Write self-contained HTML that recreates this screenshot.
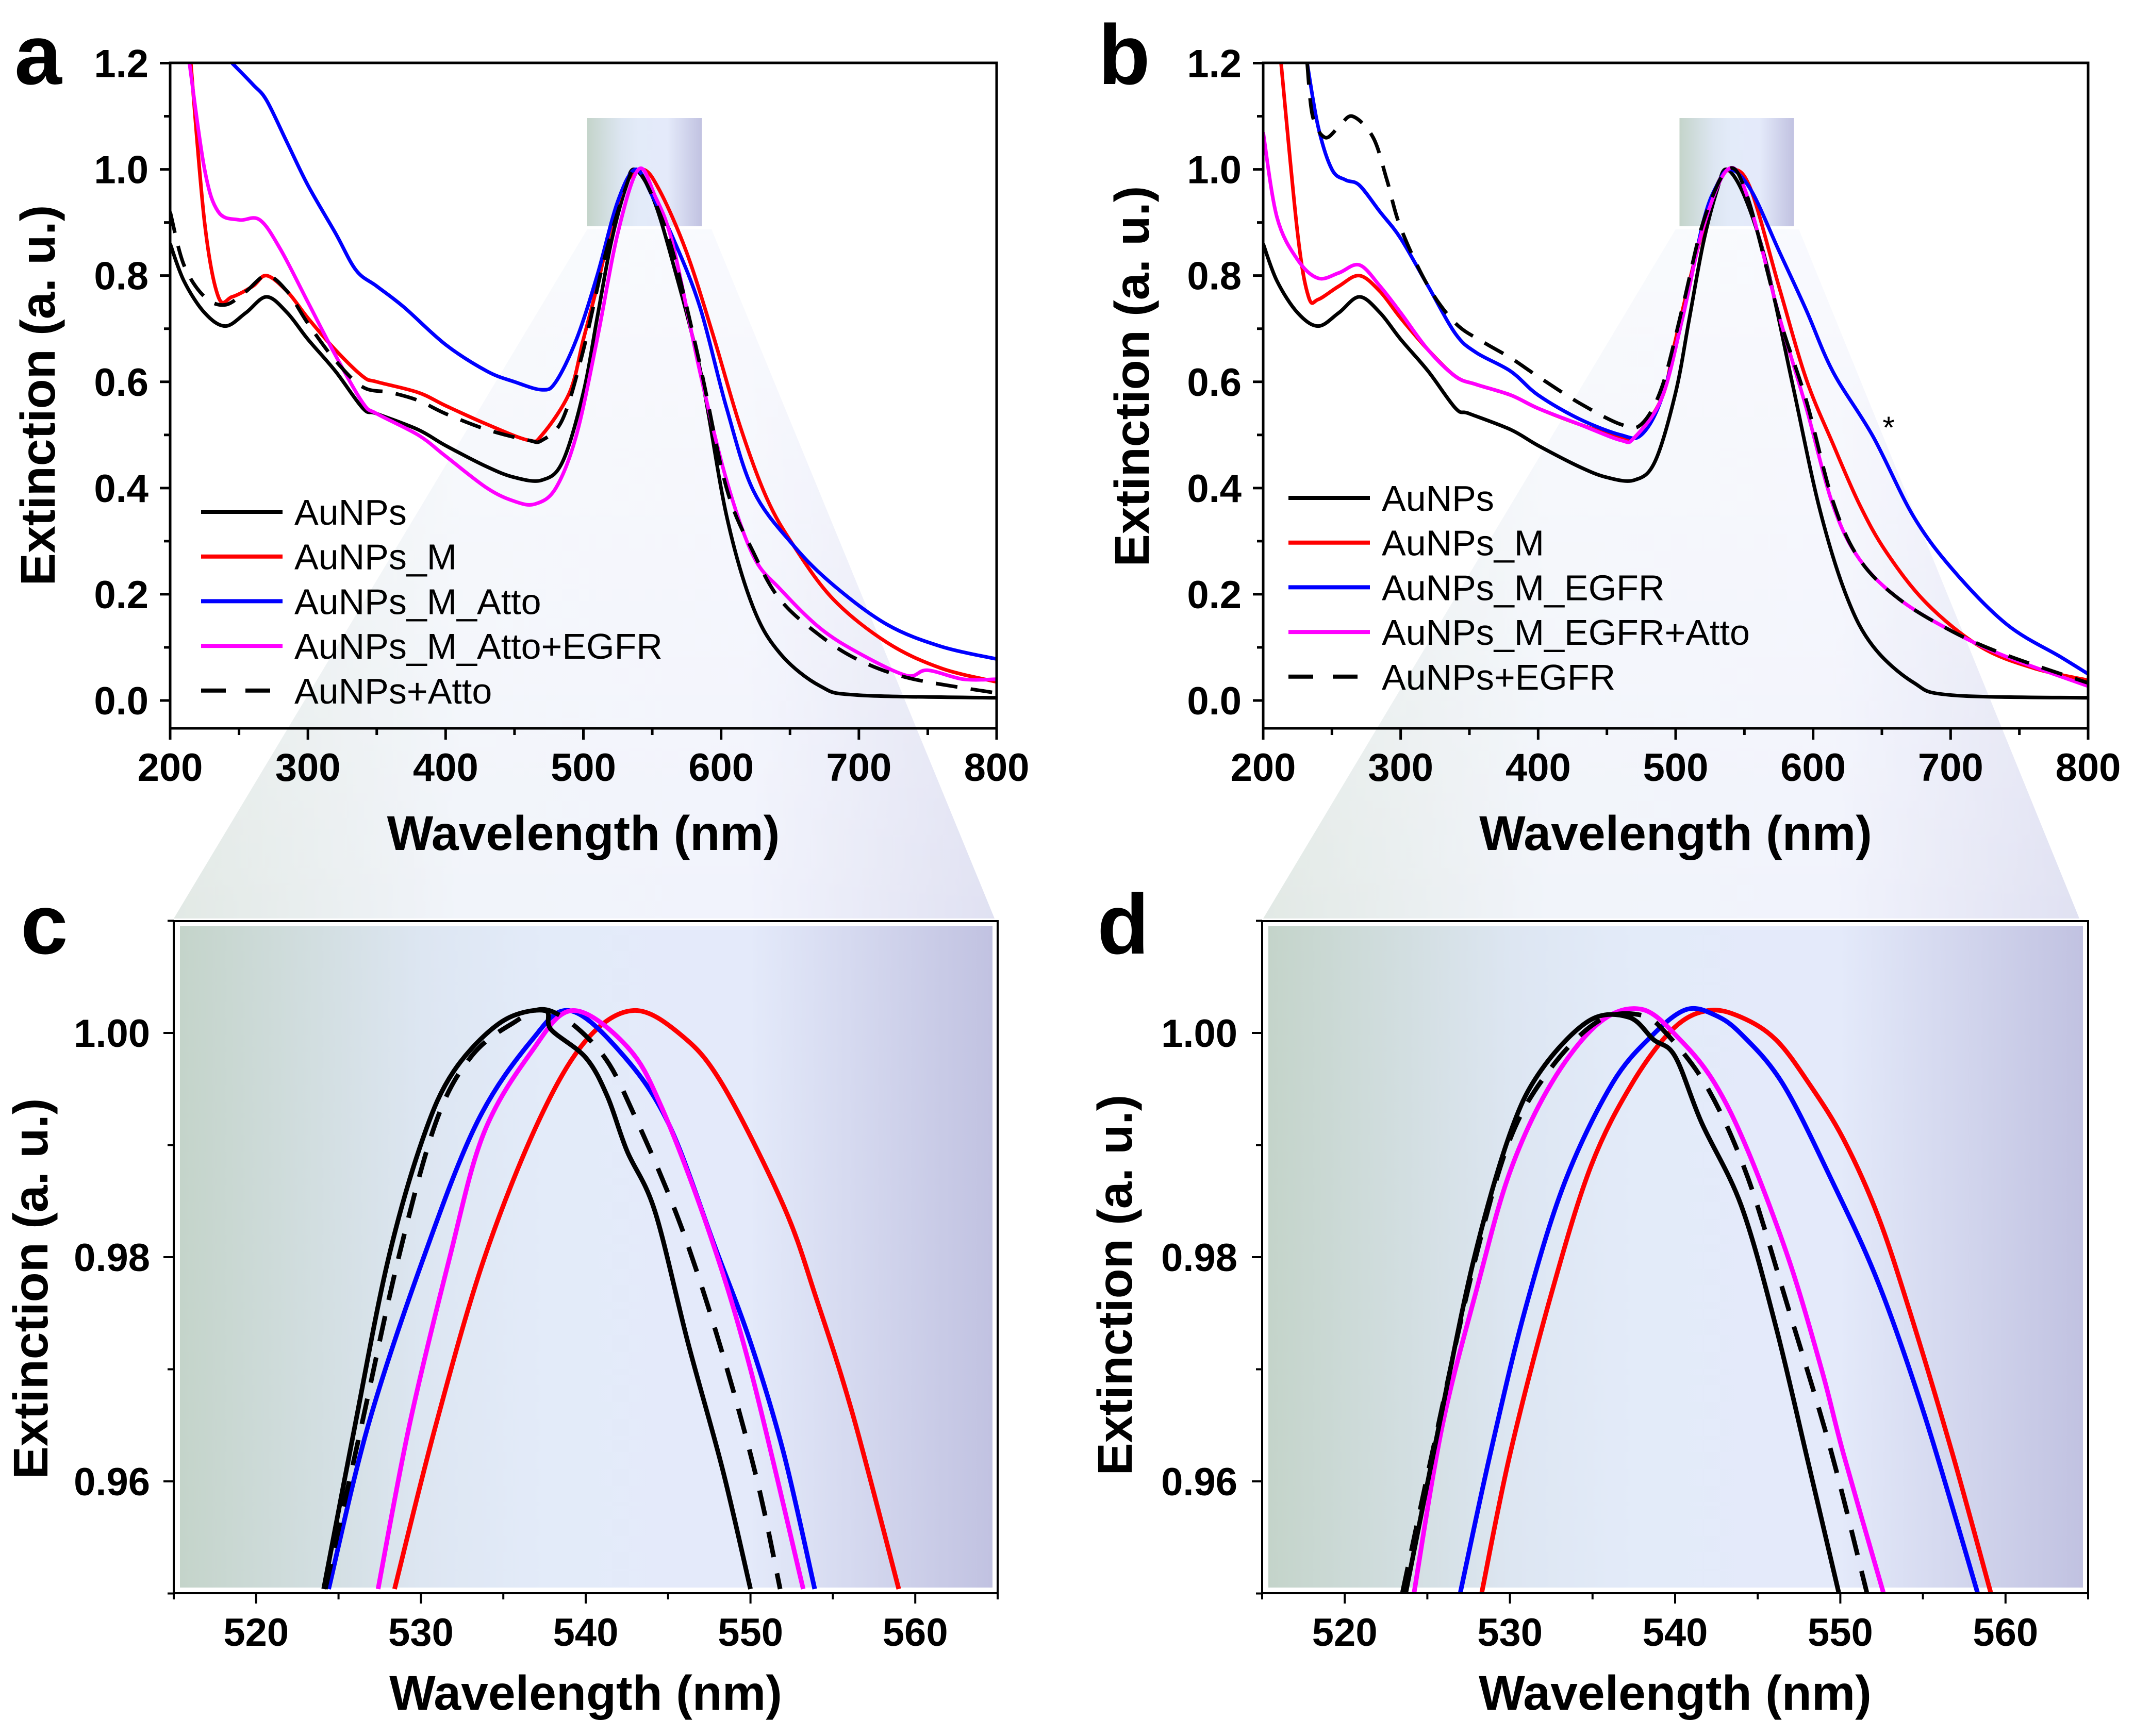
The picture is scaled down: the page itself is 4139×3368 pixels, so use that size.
<!DOCTYPE html>
<html><head><meta charset="utf-8"><style>
html,body{margin:0;padding:0;background:#fff;}
svg{display:block;font-family:"Liberation Sans",Arial,sans-serif;}
</style></head><body>
<svg id="fig" xmlns="http://www.w3.org/2000/svg" width="4139" height="3368" viewBox="0 0 4139 3368">
<defs>
<linearGradient id="spec" x1="0" x2="1" y1="0" y2="0">
<stop offset="0" stop-color="#c4d4ca"/><stop offset="0.3" stop-color="#dde6f2"/><stop offset="0.45" stop-color="#e3ebf9"/><stop offset="0.7" stop-color="#e4eafa"/><stop offset="1" stop-color="#c1c2e1"/>
</linearGradient>
<linearGradient id="trap" x1="0" x2="1" y1="0" y2="0">
<stop offset="0" stop-color="#e2e9e5"/><stop offset="0.35" stop-color="#f1f4fa"/><stop offset="0.7" stop-color="#f1f3fc"/><stop offset="1" stop-color="#e0e1f2"/>
</linearGradient>
<linearGradient id="trapFade" x1="0" x2="0" y1="0" y2="1">
<stop offset="0" stop-color="#fff" stop-opacity="0.55"/><stop offset="1" stop-color="#fff" stop-opacity="0"/>
</linearGradient>
<clipPath id="clipA"><rect x="330" y="122" width="1603" height="1291"/></clipPath>
<clipPath id="clipB"><rect x="2450" y="122" width="1600" height="1291"/></clipPath>
<clipPath id="clipC"><rect x="337" y="1787" width="1598" height="1304"/></clipPath>
<clipPath id="clipD"><rect x="2448" y="1787" width="1602" height="1304"/></clipPath>
</defs>
<g id="root"></g>
</svg>
<script>
// ---------- Panel a data ----------
const aBlackX=[200,210,225,240,255,270,285,300,320,340,350,380,400,430,450,470,485,500,510,520,530,537,550,565,585,604,623,643,672,700,800];
const aBlackY=[0.86,0.79,0.73,0.705,0.73,0.76,0.73,0.68,0.62,0.55,0.54,0.51,0.48,0.44,0.42,0.415,0.45,0.58,0.72,0.86,0.96,1.0,0.95,0.824,0.62,0.347,0.177,0.088,0.027,0.01,0.005];
const aRedX=[215,225,235,245,260,270,285,300,320,340,350,380,400,430,460,470,490,500,510,520,530,543,555.4,574.9,594.3,613.7,633.1,652.5,681.6,720.5,759.3,800];
const aRedY=[1.2,0.9,0.76,0.76,0.78,0.80,0.77,0.72,0.66,0.61,0.60,0.58,0.555,0.52,0.49,0.50,0.58,0.68,0.78,0.89,0.97,1.0,0.96,0.844,0.687,0.517,0.381,0.292,0.19,0.109,0.061,0.035];
const aBlueX=[245,260,270,285,300,320,335,350,370,400,430,450,470,480,495,510,525,538,550,565,584.6,603.9,623.4,652.5,681.6,720.5,759.3,800];
const aBlueY=[1.2,1.16,1.13,1.05,0.97,0.88,0.81,0.78,0.74,0.67,0.62,0.60,0.585,0.60,0.68,0.80,0.94,1.0,0.95,0.871,0.741,0.551,0.395,0.292,0.217,0.143,0.102,0.078];
const aMagX=[214,225,235,250,265,280,300,320,340,350,380,400,430,450,465,480,495,510,525,540,552,565,584.6,603.9,623.4,642.8,671.9,700.8,734.6,749.7,776,800];
const aMagY=[1.2,1.0,0.92,0.905,0.905,0.85,0.75,0.65,0.56,0.54,0.50,0.46,0.40,0.375,0.37,0.40,0.50,0.68,0.88,1.0,0.95,0.858,0.619,0.415,0.272,0.21,0.136,0.088,0.047,0.057,0.04,0.04];
const aDashX=[200,210,225,240,255,270,285,300,320,340,360,380,400,430,460,470,485,500,515,530,538,550,565,584.6,603.9,623.4,642.8,671.9,700.8,738.4,800];
const aDashY=[0.92,0.82,0.76,0.745,0.77,0.80,0.77,0.71,0.64,0.59,0.58,0.565,0.54,0.51,0.49,0.49,0.53,0.66,0.83,0.96,1.0,0.95,0.844,0.633,0.40,0.279,0.19,0.122,0.075,0.041,0.014];
// ---------- Panel b data ----------
const bBlackX=[200,210,225,240,255,270,285,300,320,340,350,380,400,430,450,470,485,500,510,520,530,537,550,565.8,585.3,604.7,624.2,643.6,672.9,700.9,800];
const bBlackY=[0.86,0.79,0.73,0.705,0.73,0.76,0.73,0.68,0.62,0.55,0.54,0.51,0.48,0.44,0.42,0.415,0.45,0.58,0.72,0.86,0.96,1.0,0.95,0.824,0.592,0.361,0.197,0.102,0.034,0.01,0.005];
const bRedX=[213,225,233,240,255,270,285,300,320,340,355,380,400,430,460,470,490,500,515,530,542,555,575.6,595,614.4,633.9,653.3,682.5,721.2,760.2,800];
const bRedY=[1.2,0.88,0.76,0.755,0.78,0.80,0.77,0.72,0.66,0.61,0.595,0.575,0.55,0.52,0.495,0.495,0.57,0.68,0.84,0.97,1.0,0.96,0.775,0.605,0.483,0.368,0.279,0.183,0.102,0.061,0.038];
const bBlueX=[232,240,250,260,270,285,300,320,340,355,380,400,430,460,475,490,505,520,530,540,555,575.6,595,614.4,643.6,672.9,702,741,780,800];
const bBlueY=[1.2,1.08,1.0,0.98,0.97,0.92,0.87,0.78,0.69,0.655,0.62,0.575,0.53,0.50,0.50,0.57,0.72,0.90,0.97,1.0,0.96,0.844,0.735,0.619,0.497,0.347,0.245,0.143,0.082,0.05];
const bMagX=[200,210,225,240,255,270,285,300,320,340,355,380,400,430,460,470,490,505,520,538,552,575.6,595,614.4,633.9,663,702,741,800];
const bMagY=[1.07,0.91,0.83,0.795,0.805,0.82,0.78,0.73,0.66,0.61,0.595,0.575,0.55,0.52,0.49,0.495,0.57,0.72,0.89,1.0,0.95,0.721,0.551,0.368,0.265,0.19,0.129,0.082,0.027];
const bDashX=[232,236,245,255,265,280,290,300,320,340,360,380,400,430,460,475,490,505,520,538,552,575.6,595,614.4,633.9,663,702,741,800];
const bDashY=[1.2,1.1,1.06,1.08,1.1,1.06,0.98,0.89,0.78,0.71,0.675,0.645,0.61,0.56,0.52,0.52,0.59,0.74,0.90,1.0,0.95,0.72,0.565,0.375,0.265,0.19,0.129,0.085,0.033];
// ---------- Panel c data ----------
const cBlackX=[524.1,526,528,530.1,532,534.9,537.5,537.9,540,541.3,542.5,544.2,546.2,548.3,550];
const cBlackY=[0.9504,0.965,0.9797,0.9905,0.9966,1.001,1.002,1.0003,0.9978,0.9944,0.9895,0.9841,0.9724,0.9611,0.9504];
const cDashX=[524.2,526.4,528.6,530.9,533,535.5,537.8,540.9,543,545.8,548.3,550.4,551.8];
const cDashY=[0.9504,0.965,0.9797,0.992,0.9978,1.0008,1.002,0.9983,0.9925,0.9827,0.9714,0.9601,0.9504];
const cBlueX=[524.4,526.8,530.1,533.4,536.7,539,542.1,545,547.9,550,552,553.9];
const cBlueY=[0.9504,0.965,0.9797,0.992,0.9993,1.002,0.9983,0.992,0.9807,0.9724,0.9626,0.9504];
const cMagX=[527.4,529.3,531.7,533.8,536.7,539.2,542.5,544.6,547.5,550,553.2];
const cMagY=[0.9504,0.965,0.9797,0.991,0.9983,1.002,0.9988,0.9934,0.9822,0.97,0.9504];
const cRedX=[528.4,530.9,533.8,537.1,540,542.9,545.8,548.3,552,554,556.2,559];
const cRedY=[0.9504,0.965,0.9797,0.992,0.9993,1.002,0.9998,0.9954,0.9846,0.9763,0.966,0.9504];
// ---------- Panel d data ----------
const dBlackX=[523.7,525.7,527.8,530,531.9,534.8,537.2,538.7,540,541.6,544,546.1,548.1,549.9];
const dBlackY=[0.9501,0.9649,0.9797,0.991,0.9967,1.0011,1.0014,0.9994,0.9979,0.992,0.9846,0.9738,0.9614,0.9501];
const dDashX=[523.5,525.5,527.8,530,532.5,535.4,537.9,539.5,542,544.4,546.9,549.4,551.6];
const dDashY=[0.9501,0.9639,0.9792,0.9905,0.9969,1.0011,1.0016,0.9999,0.995,0.9871,0.9752,0.9629,0.9501];
const dMagX=[524.2,525.9,528,530,532.5,535.4,538,540.3,542.4,544.4,546.9,548.9,550.2,552.6];
const dMagY=[0.9501,0.9649,0.9772,0.9876,0.9955,1.0009,1.0021,0.9994,0.9955,0.9895,0.9797,0.9698,0.9624,0.9501];
const dBlueX=[527,528.8,530.9,533.3,536.2,538.7,540.7,542.4,544,546.5,549.4,552.3,555.1,558.3];
const dBlueY=[0.9501,0.9624,0.9752,0.9866,0.9955,0.9999,1.0021,1.0016,0.9999,0.9955,0.9871,0.9777,0.9659,0.9501];
const dRedX=[528.3,530,532.5,534.9,537.4,539.9,542,544,546.1,548.1,550.2,552.3,554.3,556.8,559.1];
const dRedY=[0.9501,0.9624,0.9767,0.9881,0.9955,1.0004,1.002,1.0014,0.9994,0.9955,0.9905,0.9836,0.9747,0.9624,0.9501];
// ---------- ticks / labels ----------
const bigYTicks=[0.0,0.2,0.4,0.6,0.8,1.0,1.2];
const bigYLabels=["0.0","0.2","0.4","0.6","0.8","1.0","1.2"];
const bigXTicks=[200,300,400,500,600,700,800];
const zoomYTicks=[0.96,0.98,1.00];
const zoomYLabels=["0.96","0.98","1.00"];
const zoomXTicks=[520,530,540,550,560];
const legendA=["AuNPs","AuNPs_M","AuNPs_M_Atto","AuNPs_M_Atto+EGFR","AuNPs+Atto"];
const legendB=["AuNPs","AuNPs_M","AuNPs_M_EGFR","AuNPs_M_EGFR+Atto","AuNPs+EGFR"];

const NS="http://www.w3.org/2000/svg";
const root=document.getElementById('root');
function mk(tag,attrs,parent,text){const e=document.createElementNS(NS,tag);for(const k in attrs)e.setAttribute(k,attrs[k]);if(text!==undefined)e.textContent=text;(parent||root).appendChild(e);return e;}
function pathD(xs,ys,X,Y){
  const p=xs.map((x,i)=>[X(x),Y(ys[i])]);
  let d="M"+p[0][0].toFixed(1)+","+p[0][1].toFixed(1);
  for(let i=0;i<p.length-1;i++){
    const p0=p[i-1]||p[i],p1=p[i],p2=p[i+1],p3=p[i+2]||p2;
    const c1=[p1[0]+(p2[0]-p0[0])/6,p1[1]+(p2[1]-p0[1])/6];
    const c2=[p2[0]-(p3[0]-p1[0])/6,p2[1]-(p3[1]-p1[1])/6];
    d+="C"+c1[0].toFixed(1)+","+c1[1].toFixed(1)+" "+c2[0].toFixed(1)+","+c2[1].toFixed(1)+" "+p2[0].toFixed(1)+","+p2[1].toFixed(1);
  }
  return d;
}

const tA=mk('polygon',{points:"1139,445 1380,445 1929,1782 337,1782",fill:"url(#trap)"});


mk('polygon',{points:"1139,445 1380,445 1929,1782 337,1782",fill:"url(#trapFade)"});
const tB=mk('polygon',{points:"3250,445 3489,445 4033,1782 2450,1782",fill:"url(#trap)"});


mk('polygon',{points:"3250,445 3489,445 4033,1782 2450,1782",fill:"url(#trapFade)"});

function bigPanel(cfg){
  const g=mk('g',{});
  
  
  const X=v=>cfg.x0+(v-200)/600*cfg.w;
  const Y=v=>1359-v*1030.4;
  const hb=mk('rect',{x:X(502.8),y:229,width:X(586)-X(502.8),height:210,fill:"url(#spec)"},g);
  
  
  const sg=mk('g',{'clip-path':cfg.clip},g);
  cfg.series.forEach(s=>{
    const p=mk('path',{d:pathD(s.x,s.y,X,Y),fill:"none",stroke:s.c,'stroke-width':7,'stroke-linejoin':'round','stroke-dasharray':s.dash?"42 26":"none"},sg);
    
    
  });
  const fr=mk('rect',{x:cfg.x0,y:122,width:cfg.w,height:1291,fill:"none",stroke:"#000",'stroke-width':5},g);
  
  
  for(let v=0;v<=1.2001;v+=0.1){const maj=Math.round(v*10)%2===0;mk('line',{x1:cfg.x0,x2:cfg.x0-(maj?20:12),y1:Y(v),y2:Y(v),stroke:"#000",'stroke-width':5},g);}
  bigYTicks.forEach((v,i)=>{const t=mk('text',{x:cfg.x0-42,y:Y(v)+27,'text-anchor':'end','font-size':76,'font-weight':'bold'},g,bigYLabels[i]);
    
    });
  for(let v=200;v<=800;v+=50){const maj=v%100===0;mk('line',{x1:X(v),x2:X(v),y1:1413,y2:1413+(maj?22:13),stroke:"#000",'stroke-width':5},g);}
  bigXTicks.forEach(v=>{const t=mk('text',{x:X(v),y:1515,'text-anchor':'middle','font-size':76,'font-weight':'bold'},g,String(v));
    
    });
  const xt=mk('text',{x:cfg.x0+cfg.w/2,y:1649,'text-anchor':'middle','font-size':95,'font-weight':'bold'},g,"Wavelength (nm)");
  
  
  const yt=mk('text',{x:0,y:0,transform:`translate(${cfg.ylx},${cfg.lyc}) rotate(-90)`,'text-anchor':'middle','font-size':95,'font-weight':'bold'},g,"Extinction (a. u.)");
  
  
  const lg=mk('g',{},g);
  
  
  cfg.series.forEach((s,i)=>{
    const yy=cfg.legY+i*86.7;
    const le=mk('g',{},lg);
    
    
    mk('line',{x1:cfg.legX,x2:cfg.legX+158,y1:yy,y2:yy,stroke:s.c,'stroke-width':8,'stroke-dasharray':s.dash?"48 38":"none"},le);
    mk('text',{x:cfg.legX+181,y:yy+25,'font-size':70},le,cfg.labels[i]);
  });
  const L=mk('text',{x:cfg.lx,y:163,'font-size':165,'font-weight':'bold'},g,cfg.letter);
  
  
  return {g,X,Y};
}
bigPanel({name:'panel-a',letter:'a',x0:330,w:1603,clip:'url(#clipA)',ylx:106,lyc:767,legX:390,legY:993,lx:28,labels:legendA,
  series:[{x:aBlackX,y:aBlackY,c:'#000',n:'series-aunps'},{x:aRedX,y:aRedY,c:'#ff0000',n:'series-aunps-m'},{x:aBlueX,y:aBlueY,c:'#0000ff',n:'series-aunps-m-atto'},{x:aMagX,y:aMagY,c:'#ff00ff',n:'series-aunps-m-atto-egfr'},{x:aDashX,y:aDashY,c:'#000',dash:1,n:'series-aunps-atto'}]});
const pb=bigPanel({name:'panel-b',letter:'b',x0:2450,w:1600,clip:'url(#clipB)',ylx:2228,lyc:730,legX:2499,legY:966,lx:2130,labels:legendB,
  series:[{x:bBlackX,y:bBlackY,c:'#000',n:'series-aunps'},{x:bRedX,y:bRedY,c:'#ff0000',n:'series-aunps-m'},{x:bBlueX,y:bBlueY,c:'#0000ff',n:'series-aunps-m-egfr'},{x:bMagX,y:bMagY,c:'#ff00ff',n:'series-aunps-m-egfr-atto'},{x:bDashX,y:bDashY,c:'#000',dash:1,n:'series-aunps-egfr'}]});
const ast=mk('text',{x:3663,y:850,'text-anchor':'middle','font-size':60},pb.g,"*");



function zoomPanel(cfg){
  const g=mk('g',{});
  
  
  const X=v=>cfg.x0+(v-515)/50*cfg.w;
  const Y=v=>2004-(v-1)/0.02*435;
  const bg=mk('rect',{x:cfg.x0+12,y:1797,width:cfg.w-22,height:1283,fill:"url(#spec)"},g);
  
  
  const sg=mk('g',{'clip-path':cfg.clip},g);
  cfg.series.forEach(s=>{
    const p=mk('path',{d:pathD(s.x,s.y,X,Y),fill:"none",stroke:s.c,'stroke-width':9,'stroke-linejoin':'round','stroke-dasharray':s.dash?"50 32":"none"},sg);
    
    
  });
  const fr=mk('rect',{x:cfg.x0,y:1787,width:cfg.w,height:1304,fill:"none",stroke:"#000",'stroke-width':4},g);
  
  
  for(let k=0;k<=6;k++){const v=0.95+k*0.01;const maj=k%2===1;mk('line',{x1:cfg.x0,x2:cfg.x0-(maj?20:12),y1:Y(v),y2:Y(v),stroke:"#000",'stroke-width':4},g);}
  zoomYTicks.forEach((v,i)=>{const t=mk('text',{x:cfg.yl,y:Y(v)+27,'text-anchor':'end','font-size':76,'font-weight':'bold'},g,zoomYLabels[i]);
    
    });
  for(let v=515;v<=565;v+=5){const maj=v%10===0;mk('line',{x1:X(v),x2:X(v),y1:3091,y2:3091+(maj?20:12),stroke:"#000",'stroke-width':4},g);}
  zoomXTicks.forEach(v=>{const t=mk('text',{x:X(v),y:3193,'text-anchor':'middle','font-size':76,'font-weight':'bold'},g,String(v));
    
    });
  const xt=mk('text',{x:cfg.x0+cfg.w/2,y:3317,'text-anchor':'middle','font-size':95,'font-weight':'bold'},g,"Wavelength (nm)");
  
  
  const yt=mk('text',{x:0,y:0,transform:`translate(${cfg.ylx},${cfg.lyc}) rotate(-90)`,'text-anchor':'middle','font-size':95,'font-weight':'bold'},g,"Extinction (a. u.)");
  
  
  const L=mk('text',{x:cfg.lx,y:1850,'font-size':165,'font-weight':'bold'},g,cfg.letter);
  
  
}
zoomPanel({name:'panel-c',letter:'c',x0:337,w:1598,clip:'url(#clipC)',yl:291,ylx:92,lyc:2500,lx:40,
  series:[{x:cRedX,y:cRedY,c:'#ff0000',n:'series-aunps-m'},{x:cBlueX,y:cBlueY,c:'#0000ff',n:'series-aunps-m-atto'},{x:cMagX,y:cMagY,c:'#ff00ff',n:'series-aunps-m-atto-egfr'},{x:cDashX,y:cDashY,c:'#000',dash:1,n:'series-aunps-atto'},{x:cBlackX,y:cBlackY,c:'#000',n:'series-aunps'}]});
zoomPanel({name:'panel-d',letter:'d',x0:2448,w:1602,clip:'url(#clipD)',yl:2400,ylx:2195,lyc:2493,lx:2128,
  series:[{x:dRedX,y:dRedY,c:'#ff0000',n:'series-aunps-m'},{x:dBlueX,y:dBlueY,c:'#0000ff',n:'series-aunps-m-egfr'},{x:dMagX,y:dMagY,c:'#ff00ff',n:'series-aunps-m-egfr-atto'},{x:dDashX,y:dDashY,c:'#000',dash:1,n:'series-aunps-egfr'},{x:dBlackX,y:dBlackY,c:'#000',n:'series-aunps'}]});
</script>
</body></html>
